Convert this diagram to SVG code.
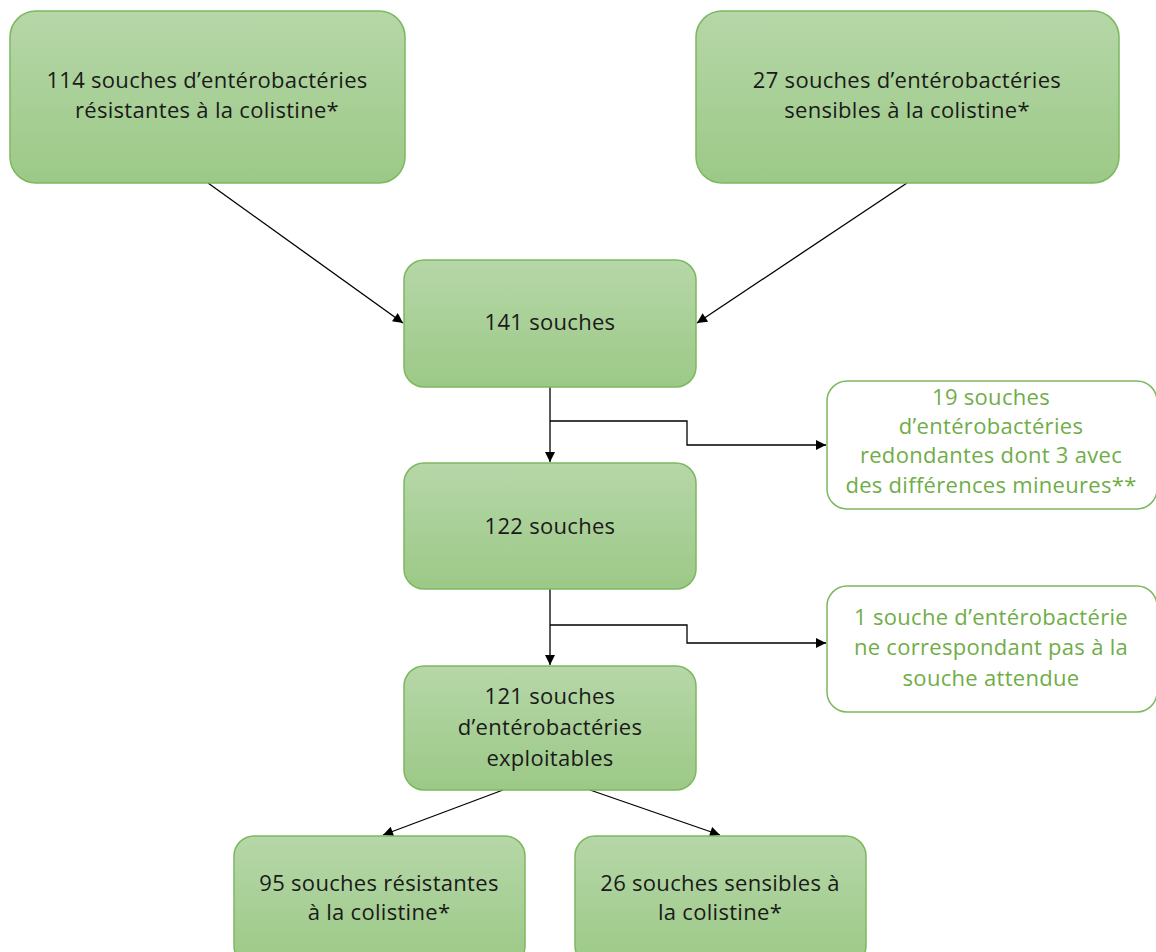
<svg xmlns="http://www.w3.org/2000/svg" width="1156" height="952" viewBox="0 0 1156 952">
<defs>
<linearGradient id="g" x1="0" y1="0" x2="0" y2="1">
<stop offset="0" stop-color="#b6d7a8"/>
<stop offset="1" stop-color="#9cc987"/>
</linearGradient>
<marker id="arr" viewBox="0 0 10 10" refX="10" refY="5" markerWidth="11" markerHeight="10" orient="auto" markerUnits="userSpaceOnUse">
<path d="M0,0 L10,5 L0,10 z" fill="#000"/>
</marker>
</defs>
<style>
.box{fill:url(#g);stroke:#7cb85e;stroke-width:1.5}
.wbox{fill:#fff;stroke:#7cb85e;stroke-width:1.5}
.t{font-family:"Open Sans","Liberation Sans",Arial,sans-serif;font-size:22px;letter-spacing:0.3px;fill:#1a1a1a;text-anchor:middle}
.gt{font-family:"Open Sans","Liberation Sans",Arial,sans-serif;font-size:22px;letter-spacing:0.3px;fill:#70ad47;text-anchor:middle}
.c{fill:none;stroke:#000;stroke-width:1.3;marker-end:url(#arr)}
</style>
<rect width="1156" height="952" fill="#fff"/>
<g id="connectors">
<line class="c" x1="208" y1="183" x2="403" y2="323"/>
<line class="c" x1="907" y1="183" x2="697" y2="323"/>
<line class="c" x1="550" y1="387" x2="550" y2="462"/>
<polyline class="c" points="550,421 687,421 687,445 826,445"/>
<line class="c" x1="550" y1="589" x2="550" y2="665"/>
<polyline class="c" points="550,625 687,625 687,643 826,643"/>
<line class="c" x1="503" y1="790" x2="383" y2="835"/>
<line class="c" x1="590" y1="790" x2="720" y2="835"/>
</g>
<g id="n114">
<rect class="box" x="10" y="11" width="395" height="172" rx="26"/>
<text class="t" x="207" y="88">114 souches d’entérobactéries</text>
<text class="t" x="207" y="118">résistantes à la colistine*</text>
</g>
<g id="n27">
<rect class="box" x="696" y="11" width="423" height="172" rx="26"/>
<text class="t" x="907" y="88">27 souches d’entérobactéries</text>
<text class="t" x="907" y="118">sensibles à la colistine*</text>
</g>
<g id="n141">
<rect class="box" x="404" y="260" width="292" height="127" rx="20"/>
<text class="t" x="550" y="330">141 souches</text>
</g>
<g id="n19">
<rect class="wbox" x="827" y="381" width="330" height="128" rx="20"/>
<text class="gt" x="991" y="405">19 souches</text>
<text class="gt" x="991" y="434">d’entérobactéries</text>
<text class="gt" x="991" y="463">redondantes dont 3 avec</text>
<text class="gt" x="991" y="493">des différences mineures**</text>
</g>
<g id="n122">
<rect class="box" x="404" y="463" width="292" height="126" rx="20"/>
<text class="t" x="550" y="534">122 souches</text>
</g>
<g id="n1">
<rect class="wbox" x="827" y="586" width="330" height="126" rx="20"/>
<text class="gt" x="991" y="625">1 souche d’entérobactérie</text>
<text class="gt" x="991" y="655">ne correspondant pas à la</text>
<text class="gt" x="991" y="686">souche attendue</text>
</g>
<g id="n121">
<rect class="box" x="404" y="666" width="292" height="124" rx="20"/>
<text class="t" x="550" y="704">121 souches</text>
<text class="t" x="550" y="735">d’entérobactéries</text>
<text class="t" x="550" y="766">exploitables</text>
</g>
<g id="n95">
<rect class="box" x="234" y="836" width="291" height="130" rx="20"/>
<text class="t" x="379" y="891">95 souches résistantes</text>
<text class="t" x="379" y="920">à la colistine*</text>
</g>
<g id="n26">
<rect class="box" x="575" y="836" width="291" height="130" rx="20"/>
<text class="t" x="720" y="891">26 souches sensibles à</text>
<text class="t" x="720" y="920">la colistine*</text>
</g>
</svg>
